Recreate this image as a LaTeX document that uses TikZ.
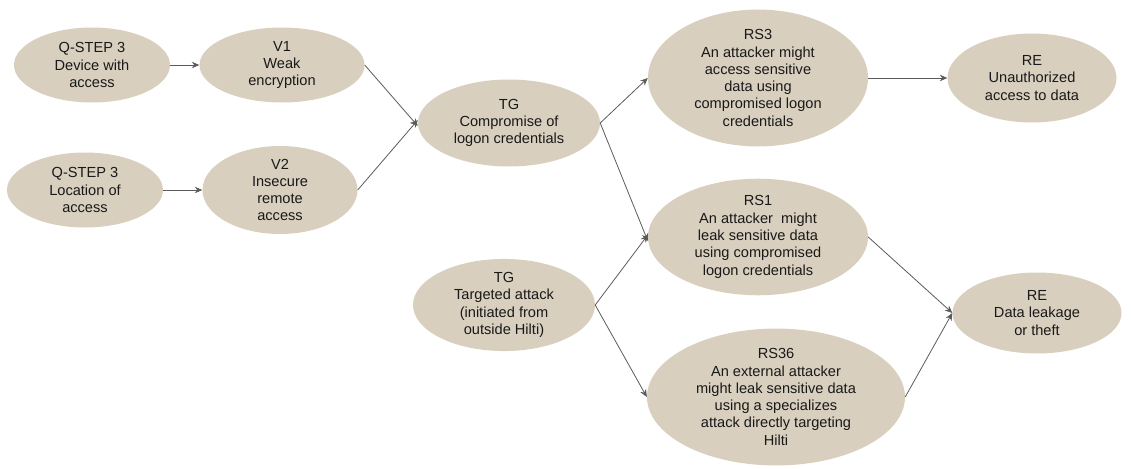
\documentclass[tikz,border=0pt]{standalone}
\usepackage{fontspec}
\setmainfont{Liberation Sans}
\usetikzlibrary{shapes.geometric,arrows.meta}
\definecolor{bubble}{RGB}{216,207,190}
\definecolor{ink}{RGB}{25,25,25}
\definecolor{wire}{RGB}{90,90,90}
\tikzset{
  bub/.style={ellipse, fill=bubble, draw=none, inner sep=0pt, align=center,
              text=ink, font=\fontsize{14.6}{17.3}\selectfont},
  link/.style={draw=wire, line width=0.8pt, -{Stealth[length=7.5pt,width=6.5pt]}}
}
\begin{document}
\begin{tikzpicture}[x=1pt,y=-1pt]
\useasboundingbox (0,0) rectangle (1131,468);

\node[bub, minimum width=156pt, minimum height=75pt] (q1) at (92,65) {Q-STEP 3\\Device with\\access};
\node[bub, minimum width=165pt, minimum height=75pt] (v1) at (282,65) {V1\\Weak\\encryption};
\node[bub, minimum width=156pt, minimum height=75pt] (q2) at (85,190) {Q-STEP 3\\Location of\\access};
\node[bub, minimum width=155pt, minimum height=77pt] (v2) at (280,190) {V2\\Insecure\\remote\\access};
\node[bub, minimum width=182pt, minimum height=87pt] (tg1) at (509,123) {TG\\Compromise of\\logon credentials};
\node[bub, minimum width=182pt, minimum height=87pt] (tg2) at (504,305) {TG\\Targeted attack\\(initiated from\\outside Hilti)};
\node[bub, minimum width=220pt, minimum height=113pt] (rs3) at (758,78) {RS3\\An attacker might\\access sensitive\\data using\\compromised logon\\credentials};
\node[bub, minimum width=220pt, minimum height=113pt] (rs1) at (758,237) {RS1\\An attacker~ might\\leak sensitive data\\using compromised\\logon credentials};
\node[bub, minimum width=258pt, minimum height=133pt] (rs36) at (776,397) {RS36\\An external attacker\\might leak sensitive data\\using a specializes\\attack directly targeting\\Hilti};
\node[bub, minimum width=169pt, minimum height=89pt] (re1) at (1032,78) {RE\\Unauthorized\\access to data};
\node[bub, minimum width=169pt, minimum height=81pt] (re2) at (1037,313) {RE\\Data leakage\\or theft};

\draw[link] (q1.east) -- (v1.west);
\draw[link] (q2.east) -- (v2.west);
\draw[link] (v1.east) -- ([yshift=-3pt]tg1.west);
\draw[link] (v2.east) -- ([yshift=3pt]tg1.west);
\draw[link] (tg1.east) -- (rs3.west);
\draw[link] (tg1.east) -- ([yshift=-4pt]rs1.west);
\draw[link] (tg2.east) -- ([yshift=2pt]rs1.west);
\draw[link] (tg2.east) -- (rs36.west);
\draw[link] (rs3.east) -- (re1.west);
\draw[link] (rs1.east) -- (re2.west);
\draw[link] (rs36.east) -- (re2.west);
\end{tikzpicture}
\end{document}
